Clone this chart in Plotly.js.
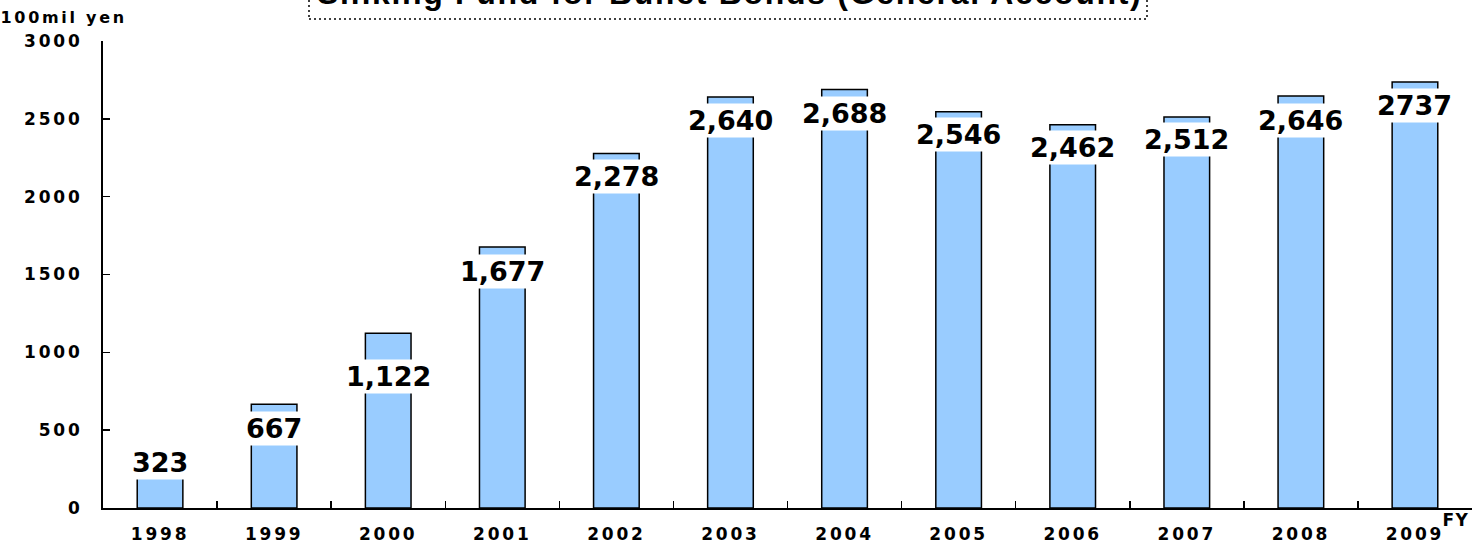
<!DOCTYPE html>
<html>
<head>
<meta charset="utf-8">
<script src="https://cdn.plot.ly/plotly-3.0.1.min.js"></script>
<style>
  html, body { margin: 0; padding: 0; background: #fff; }
  #chart { width: 1479px; height: 545px; }
  .xtick text, .ytick text { letter-spacing: 2.8px; }
  g.annotation[data-index="0"] text { letter-spacing: 2.7px; }
  g.annotation[data-index="1"] text { letter-spacing: 1.5px; }
  g.annotation[data-index="2"] text { letter-spacing: 1.7px; }
</style>
</head>
<body>
<div id="chart"></div>
<script>
// ---- data ----
const years = ["1998","1999","2000","2001","2002","2003","2004","2005","2006","2007","2008","2009"];
const values = [323, 667, 1122, 1677, 2278, 2640, 2688, 2546, 2462, 2512, 2646, 2737];
const valueLabels = ["323","667","1,122","1,677","2,278","2,640","2,688","2,546","2,462","2,512","2,646","2737"];
const titleText = "Sinking Fund for Bullet Bonds (General Account)";
const yUnit = "100mil yen";
const xUnit = "FY";

// label vertical offsets (style, px)
const labelShift = [-5, -24, -43, -25, -23, -23, -24, -23, -23, -23, -24, -24];

const W = 1479, H = 545;
const mL = 103, mR = 7, mT = 41, mB = 37;
const pw = W - mL - mR, ph = H - mT - mB;
const px2x = p => (p - mL) / pw;
const py2y = p => (H - mB - p) / ph;

const trace = {
  type: 'bar',
  x: years,
  y: values,
  width: 0.4,
  marker: { color: '#99CCFF', line: { color: '#000', width: 1.5 } },
  hoverinfo: 'x+y'
};

const annotations = [
  { text: yUnit, xref: 'paper', yref: 'paper', x: px2x(12), y: py2y(17.5),
    xanchor: 'left', yanchor: 'middle', showarrow: false,
    font: { family: 'DejaVu Sans', size: 16, weight: 'bold', color: '#000' } },
  { text: xUnit, xref: 'paper', yref: 'paper', x: px2x(1442), y: py2y(520),
    xanchor: 'left', yanchor: 'middle', showarrow: false,
    font: { family: 'DejaVu Sans', size: 17, weight: 'bold', color: '#000' } },
  { text: titleText, xref: 'paper', yref: 'paper', x: px2x(729), y: py2y(-7),
    xanchor: 'center', yanchor: 'middle', showarrow: false,
    font: { family: 'Liberation Sans', size: 32, weight: 'bold', color: '#000' } }
];
years.forEach((yr, i) => {
  annotations.push({
    x: i, y: values[i], xref: 'x', yref: 'y',
    text: valueLabels[i], showarrow: false,
    yanchor: 'middle', xanchor: 'center', yshift: labelShift[i],
    bgcolor: '#fff', borderpad: 1,
    font: { family: 'DejaVu Sans', size: 27, weight: 'bold', color: '#000' }
  });
});

const layout = {
  width: W, height: H,
  margin: { l: mL, r: mR, t: mT, b: mB, pad: 0 },
  paper_bgcolor: '#fff', plot_bgcolor: '#fff',
  showlegend: false,
  xaxis: {
    type: 'category',
    range: [-0.5, years.length - 0.5],
    showline: true, linecolor: '#000', linewidth: 2,
    ticks: 'inside', tickson: 'boundaries', ticklen: 7, tickwidth: 1.5, tickcolor: '#000',
    showgrid: false, zeroline: false,
    ticklabelstandoff: 10,
    tickfont: { family: 'DejaVu Sans', size: 17, weight: 'bold', color: '#000' },
    fixedrange: true
  },
  yaxis: {
    range: [0, 3000], dtick: 500, tick0: 0,
    showline: true, linecolor: '#000', linewidth: 2,
    ticks: 'inside', ticklen: 7, tickwidth: 1.5, tickcolor: '#000',
    showgrid: false, zeroline: false,
    ticklabelstandoff: 15,
    tickfont: { family: 'DejaVu Sans', size: 17, weight: 'bold', color: '#000' },
    fixedrange: true
  },
  shapes: [
    { type: 'rect', xref: 'paper', yref: 'paper',
      x0: px2x(309), x1: px2x(1147), y0: py2y(19), y1: py2y(-40),
      line: { color: '#000', width: 1.5, dash: '2px,3px' }, fillcolor: 'rgba(0,0,0,0)' }
  ],
  annotations: annotations
};

Plotly.newPlot('chart', [trace], layout, { displayModeBar: false, staticPlot: true });
</script>
</body>
</html>
